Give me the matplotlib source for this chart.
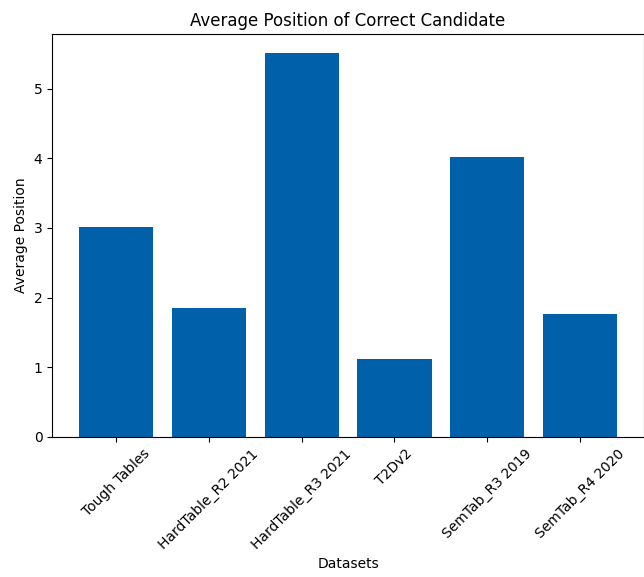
import matplotlib
matplotlib.use('Agg')
import matplotlib.pyplot as plt

datasets = ['Tough Tables', 'HardTable_R2 2021', 'HardTable_R3 2021', 'T2Dv2',
            'SemTab_R3 2019', 'SemTab_R4 2020']
avg_position = [3.02, 1.85, 5.51, 1.12, 4.02, 1.77]

fig = plt.figure(figsize=(6.44, 5.77), dpi=100)
ax = fig.add_axes([0.081, 0.243, 0.919, 0.698])

ax.bar(datasets, avg_position, color='#0060a9')
ax.set_title('Average Position of Correct Candidate')
ax.set_xlabel('Datasets')
ax.set_ylabel('Average Position')
plt.xticks(rotation=45)

fig.savefig('out.png', dpi=100)
